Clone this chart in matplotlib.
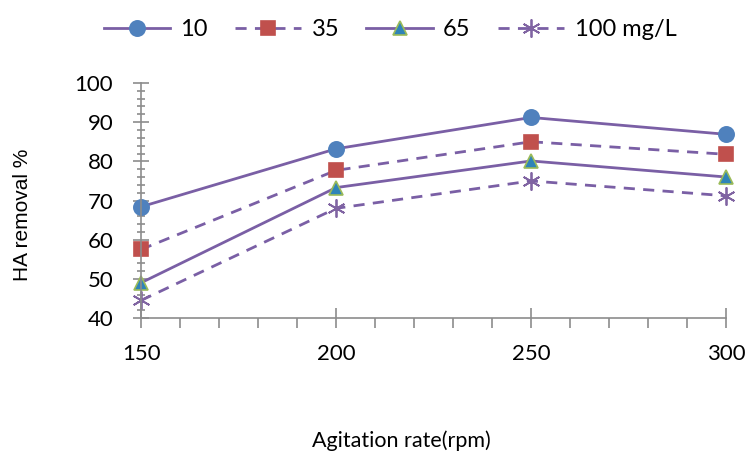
import matplotlib.pyplot as plt
from matplotlib.lines import Line2D
from matplotlib.ticker import MultipleLocator

agitation_rate = [150, 200, 250, 300]
series_labels = ["10", "35", "65", "100 mg/L"]
removal_10 = [68.4, 83.2, 91.2, 86.9]
removal_35 = [57.5, 77.7, 85.0, 81.8]
removal_65 = [49.0, 73.3, 80.1, 76.0]
removal_100 = [44.5, 68.0, 75.0, 71.2]

line_color = "#7A5FA5"
axis_color = "#8C8C8C"

fig = plt.figure(figsize=(7.47, 4.55), dpi=100)
ax = fig.add_axes([0.1888, 0.301, 0.972 - 0.1888, 0.8176 - 0.301])

styles = [
    (removal_10, "-", "o", "#4F81BD", "#4F81BD", 11),
    (removal_35, "--", "s", "#C0504D", "#C0504D", 10),
    (removal_65, "-", "^", "#2F84B8", "#9BBB59", 10),
]
handles = []
for (vals, ls, mk, fc, ec, ms), lab in zip(styles, series_labels[:3]):
    h, = ax.plot(agitation_rate, vals, linestyle=ls, color=line_color, linewidth=2,
                 marker=mk, markersize=ms, markerfacecolor=fc, markeredgecolor=ec,
                 markeredgewidth=1.2, label=lab, clip_on=False,
                 **({"dashes": (4, 3)} if ls == "--" else {}))
    handles.append(h)

# 100 mg/L: dashed line with asterisk markers
ax.plot(agitation_rate, removal_100, linestyle="--", dashes=(4, 3), color=line_color,
        linewidth=2, marker=(6, 2, 0), markersize=13, markeredgecolor="#8064A2",
        markeredgewidth=1.3, clip_on=False)
handles.append(Line2D([], [], linestyle="--", color=line_color, linewidth=2, dashes=(4, 3),
                      marker=(6, 2, 0), markersize=13, markeredgecolor="#8064A2",
                      markeredgewidth=1.3))

ax.set_xlim(150, 300)
ax.set_ylim(40, 100)
ax.xaxis.set_major_locator(MultipleLocator(50))
ax.xaxis.set_minor_locator(MultipleLocator(10))
ax.yaxis.set_major_locator(MultipleLocator(10))
ax.yaxis.set_minor_locator(MultipleLocator(2))

for side in ("top", "right"):
    ax.spines[side].set_visible(False)
for side in ("left", "bottom"):
    ax.spines[side].set_color(axis_color)
    ax.spines[side].set_linewidth(1.2)

ax.tick_params(axis="x", which="major", direction="inout", length=14, color=axis_color,
               width=1.2, pad=12, labelsize=16)
ax.tick_params(axis="x", which="minor", direction="out", length=7, color=axis_color, width=1.2)
ax.tick_params(axis="y", which="major", direction="inout", length=12, color=axis_color,
               width=1.2, pad=14, labelsize=16)
ax.tick_params(axis="y", which="minor", direction="inout", length=6, color=axis_color, width=1.2)
for lbl in ax.get_xticklabels() + ax.get_yticklabels():
    lbl.set_family("Lato")

fig.text(0.030, 0.527, "HA removal %", rotation=90, ha="center", va="center",
         fontsize=15, family="Liberation Sans")
fig.text(0.537, 0.032, "Agitation rate(rpm)", ha="center", va="center",
         fontsize=15.5, family="Lato")

fig.legend(handles, series_labels, loc="center", bbox_to_anchor=(0.522, 0.935), ncol=4,
           frameon=False, handlelength=2.8, columnspacing=1.15, handletextpad=0.45,
           prop={"family": "Lato", "size": 17})

fig.savefig("out.png", dpi=100)
